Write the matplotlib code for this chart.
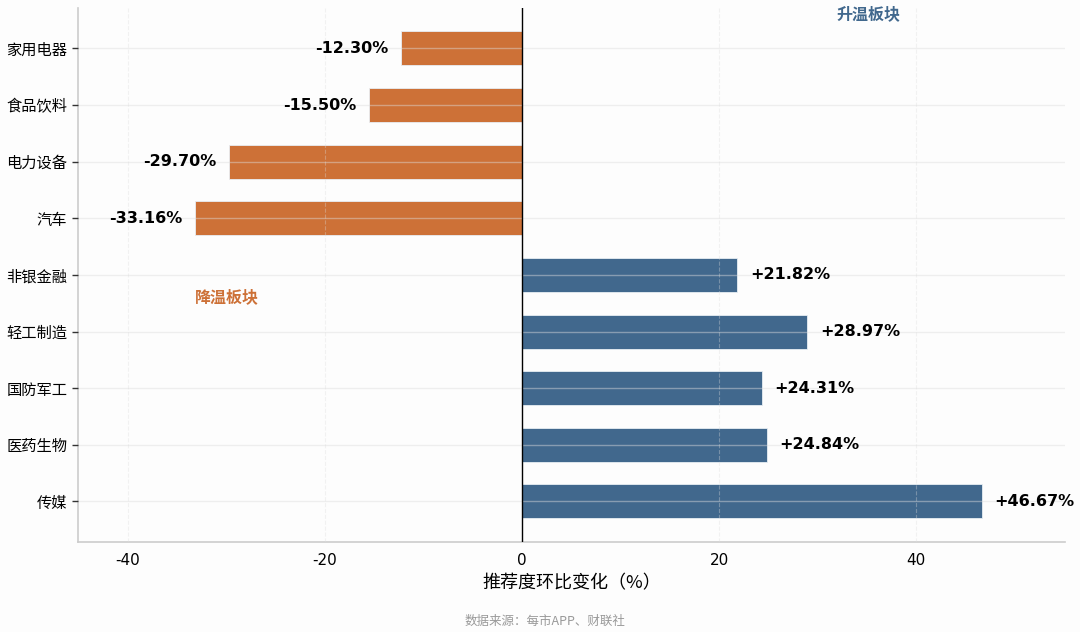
import matplotlib
matplotlib.use('Agg')
import matplotlib.pyplot as plt

plt.rcParams['font.family'] = ['Noto Sans CJK SC', 'DejaVu Sans']
plt.rcParams['axes.unicode_minus'] = False

# DATA
sectors = ['家用电器', '食品饮料', '电力设备', '汽车', '非银金融',
           '轻工制造', '国防军工', '医药生物', '传媒']
changes = [-12.30, -15.50, -29.70, -33.16, 21.82, 28.97, 24.31, 24.84, 46.67]
x_ticks = [-40, -20, 0, 20, 40]

# STYLE
orange = '#CD7137'
blue = '#41688D'

fig = plt.figure(figsize=(10.8, 6.32), dpi=100)
fig.patch.set_facecolor('#fdfdfd')
ax = fig.add_axes([0.072, 0.142, 0.914, 0.845])
ax.set_facecolor('#fdfdfd')

y_pos = list(range(len(sectors)))
colors = [orange if v < 0 else blue for v in changes]
ax.barh(y_pos, changes, height=0.6, color=colors, edgecolor='#e8eef3', linewidth=0.6, zorder=2)

ax.set_xlim(-45.1, 55.1)
ax.set_ylim(8.72, -0.71)
ax.set_yticks(y_pos)
ax.set_yticklabels(sectors, fontsize=11)
ax.set_xticks(x_ticks)
ax.set_xticklabels([str(t) for t in x_ticks], fontsize=11, family='DejaVu Sans')
ax.tick_params(axis='x', length=0, pad=8)
ax.tick_params(axis='y', length=4, width=1, color='#333333')

# grid drawn above the bars, faint
ax.set_axisbelow(False)
ax.grid(axis='y', color='#dddddd', linewidth=1, alpha=0.45, zorder=3)
ax.grid(axis='x', color='#dddddd', linewidth=0.8, linestyle='--', alpha=0.35, zorder=3)

ax.axvline(0, color='black', linewidth=1, zorder=4)

for s in ['top', 'right']:
    ax.spines[s].set_visible(False)
for s in ['left', 'bottom']:
    ax.spines[s].set_color('#cccccc')
    ax.spines[s].set_linewidth(1.2)

# value labels
for y, v in zip(y_pos, changes):
    if v < 0:
        ax.text(v - 1.3, y, f'{v:.2f}%', ha='right', va='center', fontsize=11.5,
                fontweight='bold', family='DejaVu Sans', zorder=5)
    else:
        ax.text(v + 1.3, y, f'+{v:.2f}%', ha='left', va='center', fontsize=11.5,
                fontweight='bold', family='DejaVu Sans', zorder=5)

ax.text(35.2, -0.6, '升温板块', color=blue, fontsize=11.5, fontweight='bold',
        ha='center', va='center')
ax.text(-30.0, 4.4, '降温板块', color=orange, fontsize=11.5, fontweight='bold',
        ha='center', va='center')

ax.set_xlabel('推荐度环比变化（%）', fontsize=13, labelpad=4)

fig.text(0.505, 0.016, '数据来源：每市APP、财联社', ha='center', va='center',
         fontsize=9, color='#999999')

fig.savefig('out.png', dpi=100, facecolor=fig.get_facecolor())
